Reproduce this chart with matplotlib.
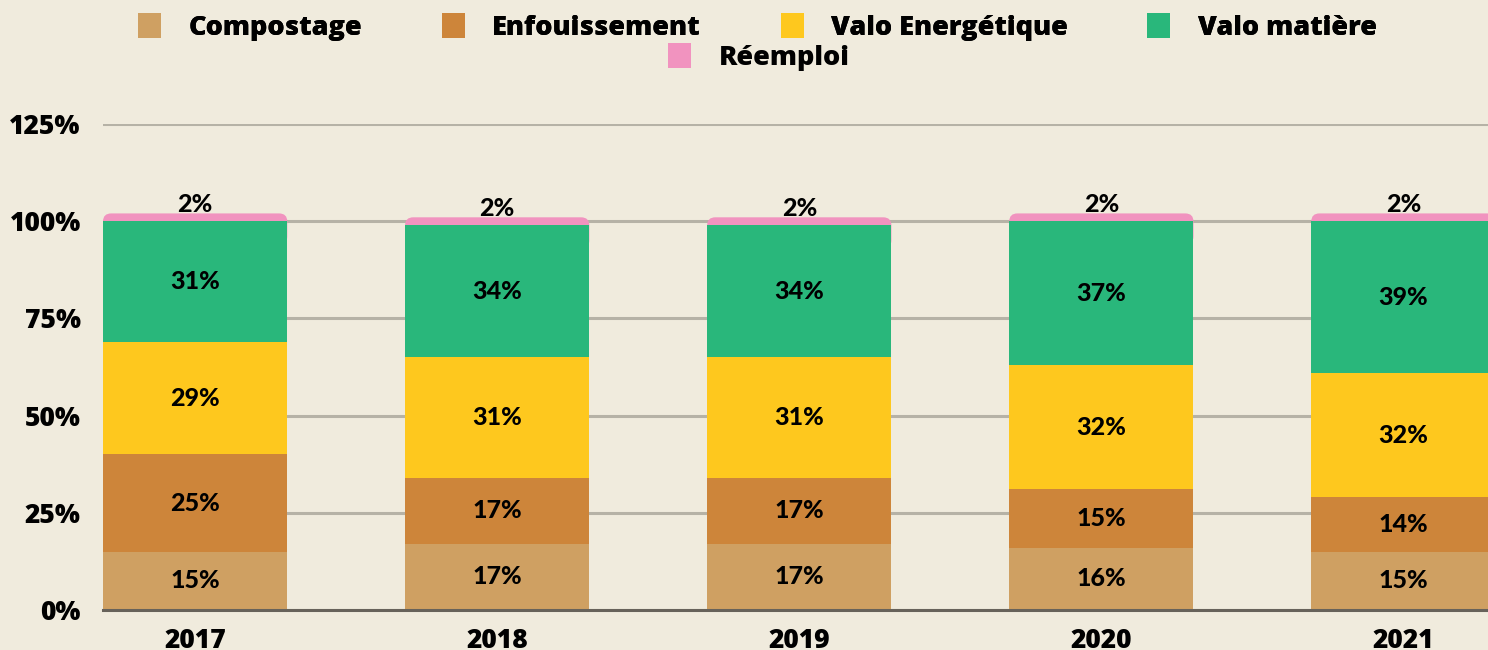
import matplotlib
matplotlib.use("Agg")
import matplotlib.pyplot as plt
import numpy as np
from matplotlib.patches import FancyBboxPatch, Patch

BG = "#f0ebdd"
GRID = "#b6b2a6"
ZERO = "#67625a"
LABEL_FONT = ["Lato", "DejaVu Sans"]

years = ["2017", "2018", "2019", "2020", "2021"]
series = ["Compostage", "Enfouissement", "Valo Energétique", "Valo matière", "Réemploi"]
compostage = [15, 17, 17, 16, 15]
enfouissement = [25, 17, 17, 15, 14]
valo_energetique = [29, 31, 31, 32, 32]
valo_matiere = [31, 34, 34, 37, 39]
reemploi = [2, 2, 2, 2, 2]
colors = ["#cfa062", "#cd853a", "#fec81e", "#29b77b", "#f193bf"]
yticks = [0, 25, 50, 75, 100, 125]

plt.rcParams.update({"font.family": ["Open Sans", "DejaVu Sans"]})

fig = plt.figure(figsize=(14.88, 6.5), dpi=100, facecolor=BG)
ax = fig.add_axes([103 / 1488, 1 - 610 / 650, 1 - 103 / 1488, (610 - 124) / 650])
ax.set_facecolor(BG)

x = np.arange(len(years))
w = 0.61
values = [compostage, enfouissement, valo_energetique, valo_matiere]
bottom = np.zeros(len(years))
for vals, c in zip(values, colors[:4]):
    vals = np.array(vals, dtype=float)
    ax.bar(x, vals, w, bottom=bottom, color=c, zorder=3)
    for xi, b, v in zip(x, bottom, vals):
        ax.text(xi, b + v / 2, f"{int(v)}%", ha="center", va="center",
                fontsize=18, fontweight="black", family=LABEL_FONT, zorder=5)
    bottom += vals

# réemploi on top, rounded top corners (lower part hidden behind the green)
for xi, b, v in zip(x, bottom, reemploi):
    patch = FancyBboxPatch((xi - w / 2, b - 6), w, v + 6,
                           boxstyle="round,pad=0,rounding_size=0.027",
                           mutation_aspect=77, fc=colors[4], ec="none", zorder=2)
    ax.add_patch(patch)
    ax.text(xi, b + v - 0.6, f"{v}%", ha="center", va="bottom",
            fontsize=18, fontweight="black", family=LABEL_FONT, zorder=5)

ax.set_xlim(-w / 2, 4.28)
ax.set_ylim(0, 125)
ax.set_yticks(yticks)
ax.set_yticklabels([f"{t}%" for t in yticks])
ax.set_xticks(x)
ax.set_xticklabels(years)
ax.tick_params(length=0, labelsize=19)
ax.tick_params(axis="y", pad=16)
ax.tick_params(axis="x", pad=13)
for lab in ax.get_xticklabels() + ax.get_yticklabels():
    lab.set_fontweight("heavy")
ax.yaxis.grid(True, color=GRID, linewidth=2.2, zorder=0)
ax.set_axisbelow(True)
for s in ["top", "right", "left"]:
    ax.spines[s].set_visible(False)
ax.spines["bottom"].set_color(ZERO)
ax.spines["bottom"].set_linewidth(2.2)
ax.spines["bottom"].set_zorder(4)

handles = [Patch(fc=c, ec="none") for c in colors]
leg_kw = dict(frameon=False, prop={"size": 19.5, "weight": "heavy"},
              handlelength=0.85, handleheight=1.0, handletextpad=1.0,
              columnspacing=2.95, borderaxespad=0, borderpad=0)
leg1 = fig.legend(handles[:4], series[:4], ncol=4, loc="center",
                  bbox_to_anchor=(0.509, 1 - 27 / 650), **leg_kw)
fig.add_artist(leg1)
fig.legend(handles[4:], series[4:], ncol=1, loc="center",
           bbox_to_anchor=(0.51, 1 - 57 / 650), **leg_kw)

fig.savefig("out.png", dpi=100, facecolor=BG)
